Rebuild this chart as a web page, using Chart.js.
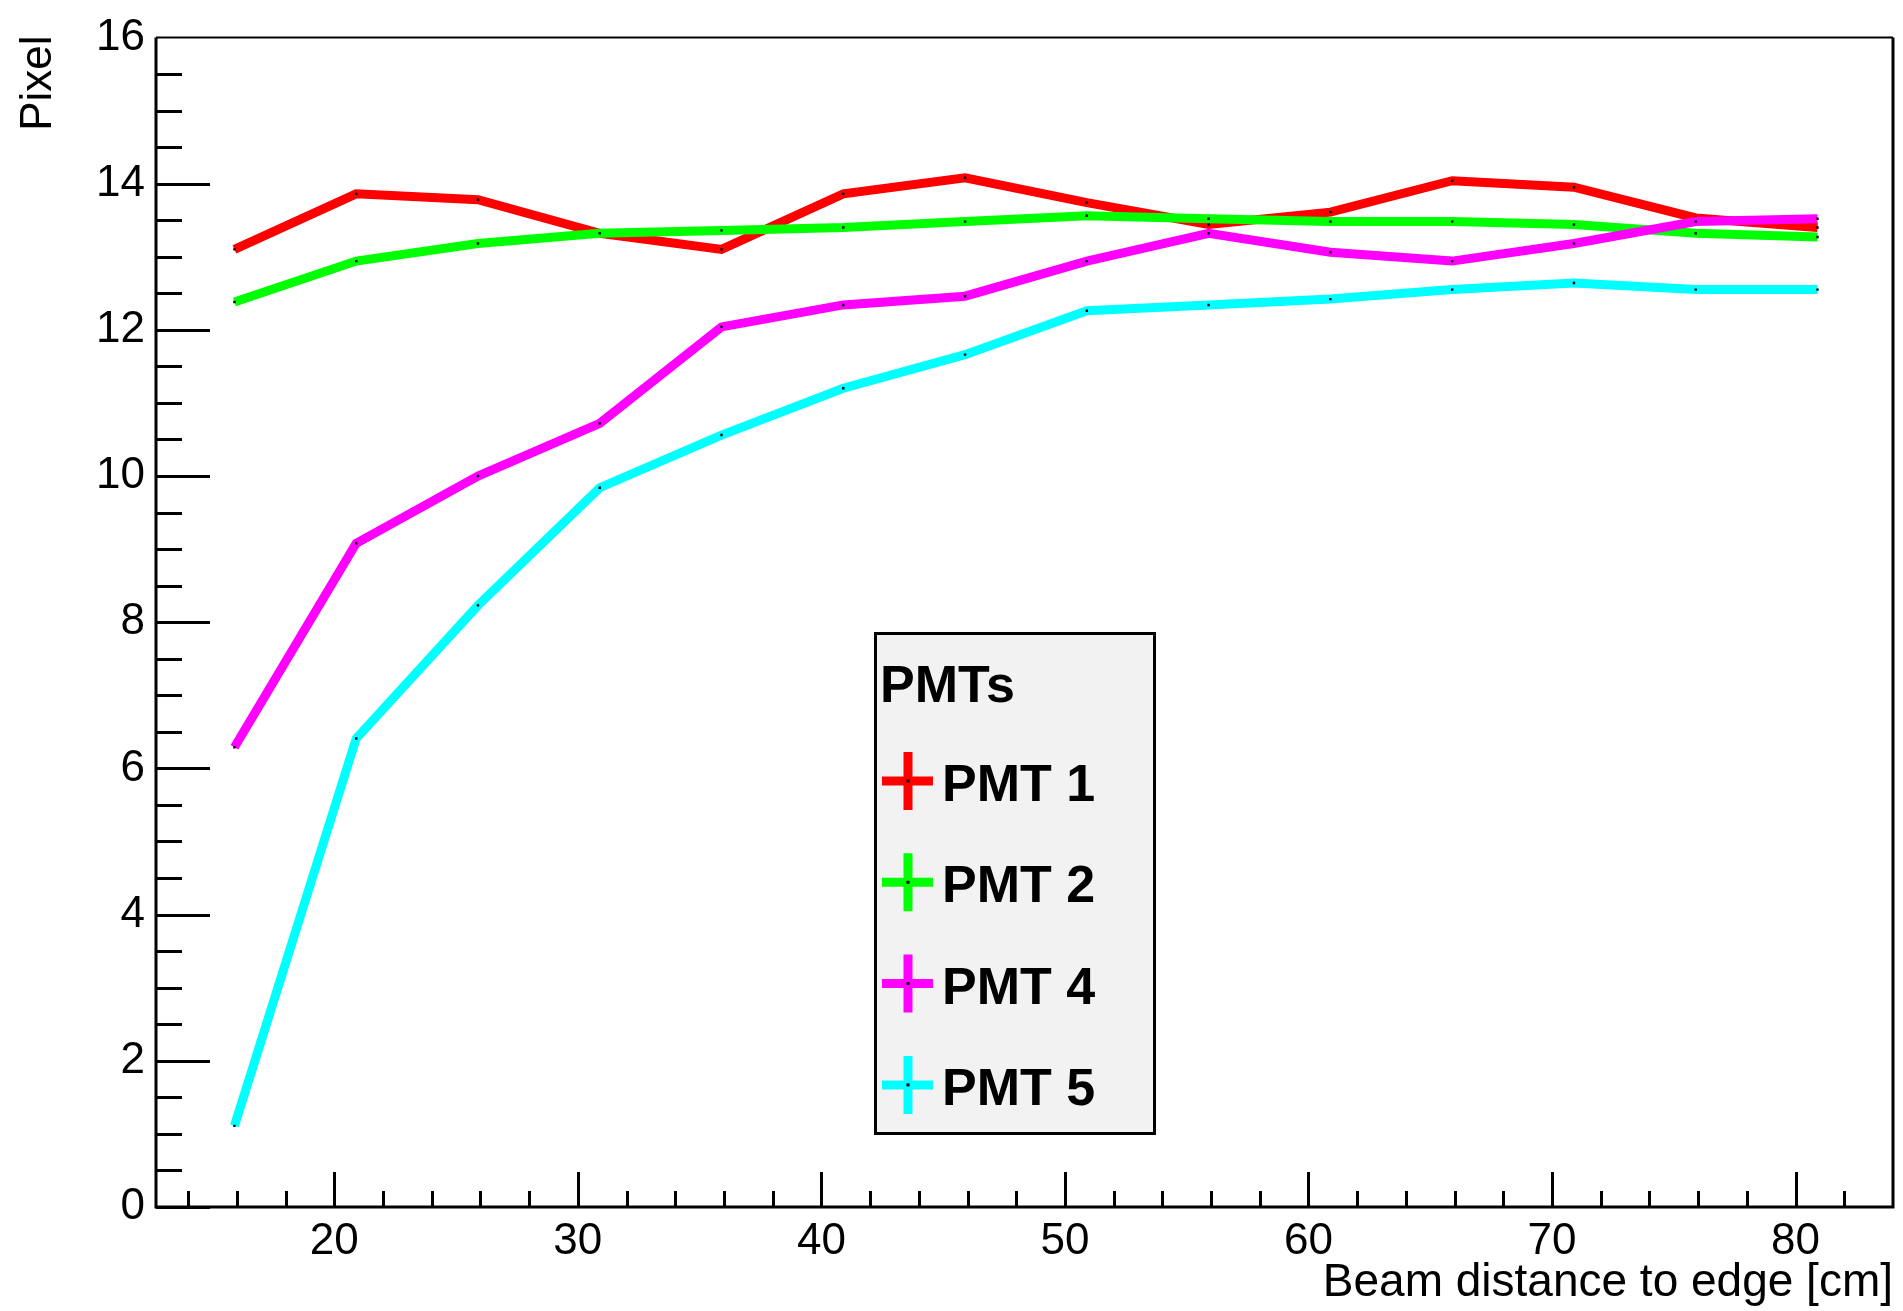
<!DOCTYPE html>
<html>
<head>
<meta charset="utf-8">
<script src="https://cdn.jsdelivr.net/npm/chart.js@4.4.1/dist/chart.umd.min.js"></script>
<style>
  html, body { margin: 0; padding: 0; background: #fff; }
  #wrap { width: 1903px; height: 1311px; }
</style>
</head>
<body>
<div id="wrap"><canvas id="chart1" width="1903" height="1311"></canvas></div>
<script>
// beam distance to edge [cm]
const distances = [15.9, 20.9, 25.9, 30.9, 35.9, 40.9, 45.9, 50.9, 55.9, 60.9, 65.9, 70.9, 75.9, 80.9];
const pmt1 = [13.10, 13.86, 13.78, 13.32, 13.10, 13.86, 14.08, 13.74, 13.44, 13.61, 14.04, 13.95, 13.53, 13.40];
const pmt2 = [12.38, 12.94, 13.18, 13.32, 13.36, 13.40, 13.48, 13.56, 13.52, 13.48, 13.48, 13.44, 13.32, 13.27];
const pmt4 = [6.29, 9.08, 10.00, 10.72, 12.04, 12.34, 12.46, 12.94, 13.32, 13.06, 12.94, 13.18, 13.48, 13.52];
const pmt5 = [1.11, 6.41, 8.23, 9.84, 10.56, 11.20, 11.66, 12.26, 12.34, 12.42, 12.55, 12.64, 12.55, 12.55];

const seriesNames = ['PMT 1', 'PMT 2', 'PMT 4', 'PMT 5'];
const seriesColors = ['#ff0000', '#00ff00', '#ff00ff', '#00ffff'];
const xTickValues = [20, 30, 40, 50, 60, 70, 80];
const yTickValues = [0, 2, 4, 6, 8, 10, 12, 14, 16];

const FONT = '"Liberation Sans", Arial, sans-serif';

function toPoints(ys) {
  return distances.map((d, i) => ({ x: d, y: ys[i] }));
}

// ROOT-style frame with inward major/minor ticks
const frameTicks = {
  id: 'frameTicks',
  beforeDatasetsDraw(chart) {
    const { ctx, chartArea: a, scales: { x, y } } = chart;
    ctx.save();
    ctx.strokeStyle = '#000';
    ctx.lineWidth = 3;
    ctx.beginPath();
    for (let v = 0; v < 16; v += 0.5) {
      const py = Math.round(y.getPixelForValue(v)) + 0.5;
      const len = v % 2 === 0 ? 54 : 26;
      ctx.moveTo(a.left, py);
      ctx.lineTo(a.left + len, py);
    }
    for (let v = 14; v < 84; v += 2) {
      const px = Math.round(x.getPixelForValue(v)) + 0.5;
      const len = v % 10 === 0 ? 35 : 16;
      ctx.moveTo(px, a.bottom);
      ctx.lineTo(px, a.bottom - len);
    }
    ctx.stroke();
    // frame
    ctx.beginPath();
    ctx.moveTo(a.left, a.top);
    ctx.lineTo(a.left, a.bottom);
    ctx.lineTo(a.right, a.bottom);
    ctx.lineTo(a.right, a.top);
    ctx.stroke();
    ctx.lineWidth = 2;
    ctx.beginPath();
    ctx.moveTo(a.left, a.top);
    ctx.lineTo(a.right, a.top);
    ctx.stroke();
    // y axis title, right-aligned at the top of the axis
    ctx.fillStyle = '#000';
    ctx.font = '44px ' + FONT;
    ctx.translate(51, a.top - 2);
    ctx.rotate(-Math.PI / 2);
    ctx.textAlign = 'right';
    ctx.textBaseline = 'alphabetic';
    ctx.fillText('Pixel', 0, 0);
    ctx.restore();
  }
};

// boxed legend like ROOT's TLegend
const pmtLegend = {
  id: 'pmtLegend',
  afterDraw(chart) {
    const ctx = chart.ctx;
    const bx = 874, by = 632, bw = 282, bh = 503;
    ctx.save();
    ctx.fillStyle = '#f2f2f2';
    ctx.fillRect(bx, by, bw, bh);
    ctx.strokeStyle = '#000';
    ctx.lineWidth = 3;
    ctx.strokeRect(bx + 1.5, by + 1.5, bw - 3, bh - 3);

    ctx.fillStyle = '#000';
    ctx.font = 'bold 52px ' + FONT;
    ctx.textBaseline = 'alphabetic';
    ctx.textAlign = 'left';
    ctx.fillText('PMTs', 880, 702);

    chart.data.datasets.forEach((ds, i) => {
      const cy = 781 + i * 101.3;
      const cx = 908;
      ctx.strokeStyle = ds.borderColor;
      ctx.lineWidth = 9;
      ctx.beginPath();
      ctx.moveTo(882, cy);
      ctx.lineTo(933, cy);
      ctx.moveTo(cx, cy - 29);
      ctx.lineTo(cx, cy + 29);
      ctx.stroke();
      ctx.fillStyle = '#000';
      ctx.fillRect(cx - 1.5, cy - 1.5, 3, 3);
      ctx.fillText(ds.label, 942, cy + 20);
    });
    ctx.restore();
  }
};

const datasets = [pmt1, pmt2, pmt4, pmt5].map((vals, i) => ({
  label: seriesNames[i],
  data: toPoints(vals),
  borderColor: seriesColors[i],
  backgroundColor: seriesColors[i],
  borderWidth: 9,
  borderCapStyle: 'butt',
  borderJoinStyle: 'miter',
  pointStyle: 'rect',
  pointRadius: 1.7,
  pointBorderWidth: 0,
  pointBackgroundColor: '#000',
  tension: 0,
  order: 3 - i
}));

const config1 = {
  type: 'line',
  data: { datasets: datasets },
  options: {
    responsive: false,
    animation: false,
    layout: { padding: { top: 31, right: 10, left: 0, bottom: 0 } },
    plugins: {
      legend: { display: false },
      tooltip: { enabled: false }
    },
    scales: {
      x: {
        type: 'linear',
        min: 12.68,
        max: 84,
        grid: { display: false, drawTicks: false },
        border: { display: false },
        afterBuildTicks: s => { s.ticks = xTickValues.map(v => ({ value: v })); },
        afterFit: s => { s.height = 104; },
        ticks: {
          color: '#000',
          font: { family: FONT, size: 44 },
          padding: 8,
          maxRotation: 0,
          autoSkip: false
        },
        title: {
          display: true,
          text: 'Beam distance to edge [cm]',
          align: 'end',
          color: '#000',
          font: { family: FONT, size: 46 },
          padding: 0
        }
      },
      y: {
        min: 0,
        max: 16,
        grid: { display: false, drawTicks: false },
        border: { display: false },
        afterBuildTicks: s => { s.ticks = yTickValues.map(v => ({ value: v })); },
        afterFit: s => { s.width = 156; },
        ticks: {
          color: '#000',
          font: { family: FONT, size: 44 },
          padding: 11
        }
      }
    }
  },
  plugins: [frameTicks, pmtLegend]
};

const chart1 = new Chart(document.getElementById('chart1'), config1);
</script>
</body>
</html>
